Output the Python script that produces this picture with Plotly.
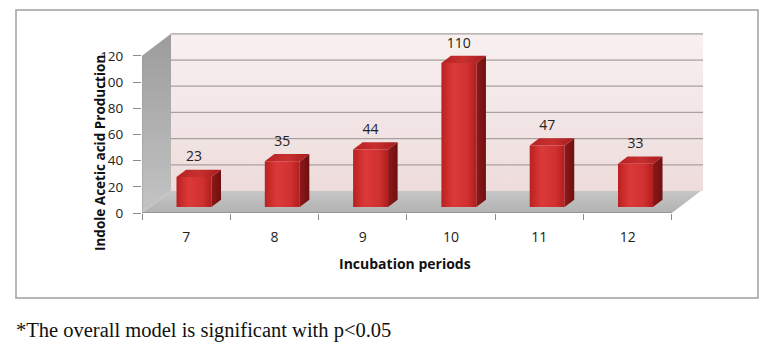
import plotly.graph_objects as go

# ---- data ----
periods = ["7", "8", "9", "10", "11", "12"]
iaa_values = [23, 35, 44, 110, 47, 33]
y_ticks = [0, 20, 40, 60, 80, 100, 120]
y_title = "Indole Acetic acid Production"
x_title = "Incubation periods"
footnote = "*The overall model is significant with p<0.05"

# ---- layout geometry (pixels) ----
W, H = 768, 348
ML, MR, MT, MB = 142, 65, 32, 135
PW, PH = W - ML - MR, H - MT - MB
KX = 88.3            # px per category
Y_TOP = 138.2        # y-axis top in data units
KY = PH / Y_TOP      # px per data unit
X_MIN = -0.5
X_MAX = X_MIN + PW / KX
DX = 29 / KX         # oblique depth in x data units
DY = 22 / KY         # oblique depth in y data units
F0, F1 = 0.27, 0.60  # bar depth fractions
HW = 0.198           # half bar width
YMAX = max(y_ticks)
n = len(periods)


def px_x(p):
    return (p - ML) / PW


def px_y(p):
    return (H - MB - p) / PH


fig = go.Figure()


def poly(xs, ys, color=None, grad=None, line=None):
    kw = dict(x=xs + [xs[0]], y=ys + [ys[0]], mode="lines", fill="toself",
              hoverinfo="skip", showlegend=False,
              line=line or dict(width=0, color="rgba(0,0,0,0)"))
    if grad is not None:
        kw["fillgradient"] = grad
    else:
        kw["fillcolor"] = color
    fig.add_trace(go.Scatter(**kw))


x_left, x_right = -0.5, n - 0.5
# back wall
poly([x_left + DX, X_MAX, X_MAX, x_left + DX], [DY, DY, YMAX + DY, YMAX + DY],
     grad=dict(type="vertical", colorscale=[[0, "#eedcdc"], [1, "#f8f0f0"]]))
# gridlines on back wall
for t in y_ticks[1:]:
    fig.add_trace(go.Scatter(x=[x_left + DX, X_MAX], y=[t + DY, t + DY], mode="lines",
                             line=dict(color="#a8a0a0", width=1.2), hoverinfo="skip",
                             showlegend=False))
# side wall
poly([x_left, x_left + DX, x_left + DX, x_left], [0, DY, YMAX + DY, YMAX],
     grad=dict(type="vertical", colorscale=[[0, "#c4c4c4"], [1, "#9c9c9c"]]))
# floor
poly([x_left, x_right, x_right + DX, x_left + DX], [0, 0, DY, DY],
     grad=dict(type="vertical", colorscale=[[0, "#b2b2b2"], [1, "#c6c6c6"]]))
# floor front edge / front axes
fig.add_trace(go.Scatter(x=[x_left, x_right], y=[0, 0], mode="lines",
                         line=dict(color="#8c8c8c", width=1.5), hoverinfo="skip", showlegend=False))
fig.add_trace(go.Scatter(x=[x_left, x_left], y=[0, YMAX], mode="lines",
                         line=dict(color="#9a9a9a", width=1), hoverinfo="skip", showlegend=False))

# bars
ddx, ddy = (F1 - F0) * DX, (F1 - F0) * DY
for i, v in enumerate(iaa_values):
    xl = i + F0 * DX - HW
    xr = i + F0 * DX + HW
    yb = F0 * DY
    yt = yb + v
    # side face
    poly([xr, xr + ddx, xr + ddx, xr], [yb, yb + ddy, yt + ddy, yt],
         grad=dict(type="horizontal", colorscale=[[0, "#8e1818"], [1, "#701010"]]))
    # top face
    poly([xl, xr, xr + ddx, xl + ddx], [yt, yt, yt + ddy, yt + ddy],
         grad=dict(type="horizontal", colorscale=[[0, "#b82222"], [0.5, "#c83030"], [1, "#a41c1c"]]))
    # front face
    poly([xl, xr, xr, xl], [yb, yb, yt, yt],
         grad=dict(type="horizontal",
                   colorscale=[[0, "#bb2020"], [0.35, "#dc3a3a"], [0.75, "#d03030"], [1, "#b01e1e"]]))

# value labels
fig.add_trace(go.Scatter(
    x=[i + F0 * DX for i in range(n)],
    y=[F0 * DY + v + 19 / KY for v in iaa_values],
    mode="text", text=[str(v) for v in iaa_values], textposition="middle center",
    textfont=dict(family="Open Sans", size=14, color="#222222"),
    hoverinfo="skip", showlegend=False, cliponaxis=False))

fig.update_xaxes(range=[X_MIN, X_MAX], tickvals=list(range(n)), ticktext=periods,
                 ticks="", ticklen=0, showgrid=False, zeroline=False, showline=False,
                 ticklabelstandoff=14,
                 tickfont=dict(family="Open Sans", size=14, color="#222222"),
                 minor=dict(tickvals=[i - 0.5 for i in range(n + 1)], ticks="outside",
                            ticklen=6, tickcolor="#8c8c8c", tickwidth=1, showgrid=False),
                 fixedrange=True)
fig.update_yaxes(range=[0, Y_TOP], tickvals=y_ticks, ticks="outside", ticklen=8,
                 tickcolor="#8c8c8c", showgrid=False, zeroline=False, showline=False,
                 ticklabelstandoff=7,
                 tickfont=dict(family="Open Sans", size=13.5, color="#222222"),
                 fixedrange=True)

fig.add_annotation(text="<b>%s</b>" % y_title, xref="paper", yref="paper",
                   x=px_x(100), y=px_y(153), xanchor="center", yanchor="middle",
                   textangle=-90, showarrow=False,
                   font=dict(family="Open Sans", size=13.5, color="#111111"))
fig.add_annotation(text="<b>%s</b>" % x_title, xref="paper", yref="paper",
                   x=px_x(405), y=px_y(263), xanchor="center", yanchor="middle",
                   showarrow=False,
                   font=dict(family="Open Sans", size=14, color="#111111"))
fig.add_annotation(text=footnote, xref="paper", yref="paper",
                   x=px_x(14), y=px_y(330), xanchor="left", yanchor="middle",
                   showarrow=False,
                   font=dict(family="Liberation Serif", size=20.5, color="#111111"))

# outer frame
fig.add_shape(type="rect", xref="paper", yref="paper",
              x0=px_x(16), x1=px_x(758), y0=px_y(298), y1=px_y(10),
              line=dict(color="#a0a0a0", width=1.5), layer="below")

fig.update_layout(width=W, height=H, margin=dict(l=ML, r=MR, t=MT, b=MB),
                  paper_bgcolor="white", plot_bgcolor="white", showlegend=False)

fig.write_html("out.html")
